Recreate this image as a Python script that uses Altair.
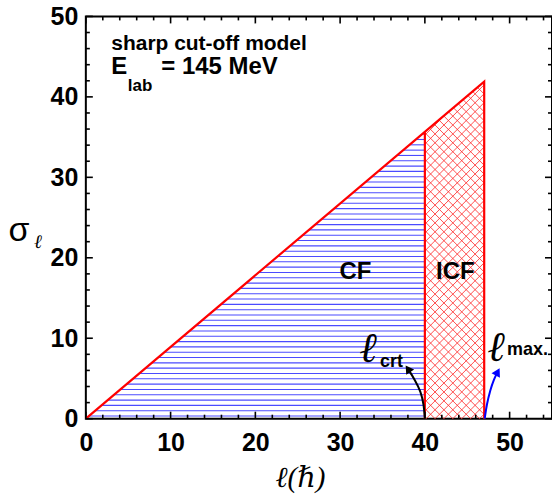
import altair as alt
import pandas as pd
import numpy as np

# ---- data ----
l_crit = 40.0          # critical angular momentum
l_max = 47.0           # maximum angular momentum
sigma_crit = 35.6      # sigma_l at l_crit
sigma_max = 41.9       # sigma_l at l_max

outline_l = [0.0, 47.0, 47.0]
outline_s = [0.0, 41.9, 0.0]

x_major = [0, 10, 20, 30, 40, 50]
x_minor = [2, 4, 6, 8, 12, 14, 16, 18, 22, 24, 26, 28, 32, 34, 36, 38, 42, 44, 46, 48, 52, 54]
y_major = [0, 10, 20, 30, 40, 50]
y_minor = [2, 4, 6, 8, 12, 14, 16, 18, 22, 24, 26, 28, 32, 34, 36, 38, 42, 44, 46, 48]

# arrows (data coordinates)
crt_arrow_l = [40.0, 39.88, 39.53, 38.82, 38.0]
crt_arrow_s = [0.0, 1.74, 3.35, 4.84, 6.2]
max_arrow_l = [47.06, 47.29, 47.73, 48.12, 48.59]
max_arrow_s = [0.0, 1.74, 3.6, 4.84, 5.83]

W, H = 467, 403
XMAX, YMAX = 55, 50

xs = alt.Scale(domain=[0, XMAX], nice=False, zero=False)
ys = alt.Scale(domain=[0, YMAX], nice=False, zero=False)
xaxis = alt.Axis(values=x_major, title=None, labelPadding=12)
yaxis = alt.Axis(values=y_major, title=None, labelPadding=8)


def X(f):
    return alt.X(f"{f}:Q", scale=xs, axis=xaxis)


def Y(f):
    return alt.Y(f"{f}:Q", scale=ys, axis=yaxis)


# ---- hatch geometry derived from the data ----
slope = sigma_max / l_max
hy = np.arange(0.33, sigma_crit, 0.661)
blue = pd.DataFrame({"l": hy / slope, "l2": np.full_like(hy, l_crit), "s": hy, "s2": hy})

m = (W / XMAX) / (H / YMAX)  # 45 degrees on screen
rows = []
for c in np.arange(-5.0, 95.0, 1.05):
    # rising lines
    lo, hi = max(l_crit, c), min(l_max, m * c / (m - slope))
    if lo < hi:
        rows.append((lo, m * (lo - c), hi, m * (hi - c)))
    # falling lines
    lo, hi = max(l_crit, m * c / (m + slope)), min(l_max, c)
    if lo < hi:
        rows.append((lo, -m * (lo - c), hi, -m * (hi - c)))
red = pd.DataFrame(rows, columns=["l", "s", "l2", "s2"])

blue_hatch = alt.Chart(blue).mark_rule(color="#4b4bff", strokeWidth=1.1).encode(
    x=X("l"), x2="l2", y=Y("s"), y2="s2")
red_hatch = alt.Chart(red).mark_rule(color="#ff3030", strokeWidth=0.85).encode(
    x=X("l"), x2="l2", y=Y("s"), y2="s2")

outline_df = pd.DataFrame({"l": outline_l, "s": outline_s, "o": [0, 1, 2]})
outline = alt.Chart(outline_df).mark_line(color="#ff0000", strokeWidth=2.2).encode(
    x=X("l"), y=Y("s"), order="o:Q")
crit_line = alt.Chart(pd.DataFrame({"l": [l_crit], "s": [0.0], "s2": [sigma_crit]})).mark_rule(
    color="#ff0000", strokeWidth=2.2).encode(x=X("l"), y=Y("s"), y2="s2")

# arrows
crt_df = pd.DataFrame({"l": crt_arrow_l, "s": crt_arrow_s, "o": range(len(crt_arrow_l))})
max_df = pd.DataFrame({"l": max_arrow_l, "s": max_arrow_s, "o": range(len(max_arrow_l))})
crt_line = alt.Chart(crt_df).mark_line(color="black", strokeWidth=2, interpolate="basis").encode(
    x=X("l"), y=Y("s"), order="o:Q")
max_line = alt.Chart(max_df).mark_line(color="#0000ff", strokeWidth=2, interpolate="basis").encode(
    x=X("l"), y=Y("s"), order="o:Q")
crt_head = alt.Chart(crt_df.tail(1)).mark_point(
    shape="triangle-up", filled=True, color="black", size=90, angle=326, opacity=1).encode(
    x=X("l"), y=Y("s"))
max_head = alt.Chart(max_df.tail(1)).mark_point(
    shape="triangle-up", filled=True, color="#0000ff", size=90, angle=28, opacity=1).encode(
    x=X("l"), y=Y("s"))

# ticks (inward, on all four sides)
def xticks(vals, ln):
    d = pd.DataFrame({"l": vals})
    b = alt.Chart(d).mark_rule(color="black", strokeWidth=1.6).encode(
        x=X("l"), y=alt.value(H), y2=alt.value(H - ln))
    t = alt.Chart(d).mark_rule(color="black", strokeWidth=1.6).encode(
        x=X("l"), y=alt.value(0), y2=alt.value(ln))
    return [b, t]


def yticks(vals, ln):
    d = pd.DataFrame({"s": vals})
    lft = alt.Chart(d).mark_rule(color="black", strokeWidth=1.6).encode(
        y=Y("s"), x=alt.value(0), x2=alt.value(ln))
    rgt = alt.Chart(d).mark_rule(color="black", strokeWidth=1.6).encode(
        y=Y("s"), x=alt.value(W), x2=alt.value(W - ln))
    return [lft, rgt]


tick_layers = xticks(x_major, 7) + xticks(x_minor, 4) + yticks(y_major, 7) + yticks(y_minor, 4)

# annotations
SANS = "Liberation Sans, Arial, sans-serif"
SERIF = "Liberation Serif, DejaVu Serif, serif"


def txt(l, s, t, **kw):
    return alt.Chart(pd.DataFrame({"l": [l], "s": [s], "t": [t]})).mark_text(**kw).encode(
        x=X("l"), y=Y("s"), text="t:N")


def ptxt(px, py, t, **kw):
    return alt.Chart(pd.DataFrame({"t": [t]})).mark_text(**kw).encode(
        x=alt.value(px), y=alt.value(py), text="t:N")


texts = [
    txt(3.0, 45.8, "sharp cut-off model", font=SANS, fontWeight="bold", fontSize=21,
        align="left", baseline="alphabetic", color="black"),
    txt(3.0, 42.8, "E", font=SANS, fontWeight="bold", fontSize=24,
        align="left", baseline="alphabetic", color="black"),
    txt(4.95, 40.7, "lab", font=SANS, fontWeight="bold", fontSize=17,
        align="left", baseline="alphabetic", color="black"),
    txt(8.9, 42.8, "= 145 MeV", font=SANS, fontWeight="bold", fontSize=24,
        align="left", baseline="alphabetic", color="black"),
    txt(31.8, 18.2, "CF", font=SANS, fontWeight="bold", fontSize=24,
        align="center", baseline="middle", color="black"),
    txt(43.6, 18.2, "ICF", font=SANS, fontWeight="bold", fontSize=24,
        align="center", baseline="middle", color="black"),
    txt(33.4, 7.0, "ℓ", font=SERIF, fontStyle="italic", fontWeight="bold", fontSize=42,
        align="center", baseline="alphabetic", color="black"),
    txt(34.7, 6.45, "crt", font=SANS, fontWeight="bold", fontSize=18,
        align="left", baseline="alphabetic", color="black"),
    txt(48.5, 7.15, "ℓ", font=SERIF, fontStyle="italic", fontWeight="bold", fontSize=42,
        align="center", baseline="alphabetic", color="black"),
    txt(49.7, 7.94, "max.", font=SANS, fontWeight="bold", fontSize=18,
        align="left", baseline="alphabetic", color="black"),
    # axis titles
    ptxt(215, 462, "ℓ(ℏ)", font=SERIF, fontStyle="italic", fontSize=29,
         align="center", baseline="middle", color="black"),
    ptxt(-67, 215, "σ", font=SANS, fontSize=34, align="center", baseline="middle", color="black"),
    ptxt(-48, 226, "ℓ", font=SERIF, fontStyle="italic", fontSize=19,
         align="center", baseline="middle", color="black"),
]

chart = alt.layer(
    blue_hatch, red_hatch, outline, crit_line, crt_line, max_line, crt_head, max_head,
    *tick_layers, *texts
).properties(
    width=W, height=H,
    autosize=alt.AutoSizeParams(type="none"),
    padding={"left": 86, "top": 16, "right": 0, "bottom": 76},
    background="white",
).configure_view(
    stroke="black", strokeWidth=2
).configure_axis(
    ticks=False, domain=False, grid=False,
    labelFont=SANS, labelFontWeight="bold", labelFontSize=25, labelColor="black",
    labelFlush=False, labelOverlap=False,
)

chart.save("out.html", embed_options={"renderer": "svg", "actions": False})
